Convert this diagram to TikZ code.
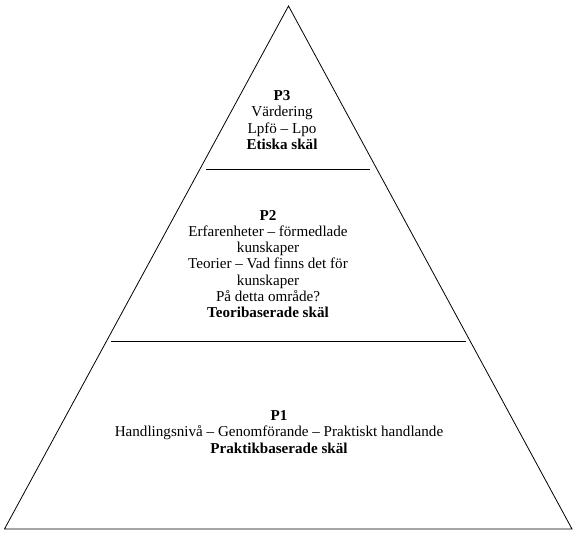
\documentclass[tikz,border=0pt]{standalone}
\usepackage{fontspec}
\setmainfont{Liberation Serif}
\usetikzlibrary{positioning}

\begin{document}
\begin{tikzpicture}[
  x=1pt, y=-1pt,
  level text/.style={align=center, font=\fontsize{15.1}{16.2}\selectfont, inner sep=0pt},
  divider/.style={draw, line width=0.9pt},
  outline/.style={draw, line width=0.8pt, line join=miter}
]
  \useasboundingbox (0,0) rectangle (575,537);

  \coordinate (top)   at (288.5, 6);
  \coordinate (left)  at (4.5, 529);
  \coordinate (right) at (572, 529);
  \draw[outline] (top) -- (right) -- (left) -- cycle;

  \coordinate (d3a) at (206, 169);
  \coordinate (d3b) at (370, 169);
  \coordinate (d2a) at (111, 341);
  \coordinate (d2b) at (466, 341);
  \draw[divider] (d3a) -- (d3b);
  \draw[divider] (d2a) -- (d2b);

  \node[level text] (p3) at (282, 120)
    {\textbf{P3}\\Värdering\\Lpfö – Lpo\\\textbf{Etiska skäl}};
  \node[level text] (p2) at (268, 264)
    {\textbf{P2}\\Erfarenheter – förmedlade\\kunskaper\\Teorier – Vad finns det för\\kunskaper\\På detta område?\\\textbf{Teoribaserade skäl}};
  \node[level text] (p1) at (279, 432)
    {\textbf{P1}\\Handlingsnivå – Genomförande – Praktiskt handlande\\\textbf{Praktikbaserade skäl}};
\end{tikzpicture}
\end{document}
